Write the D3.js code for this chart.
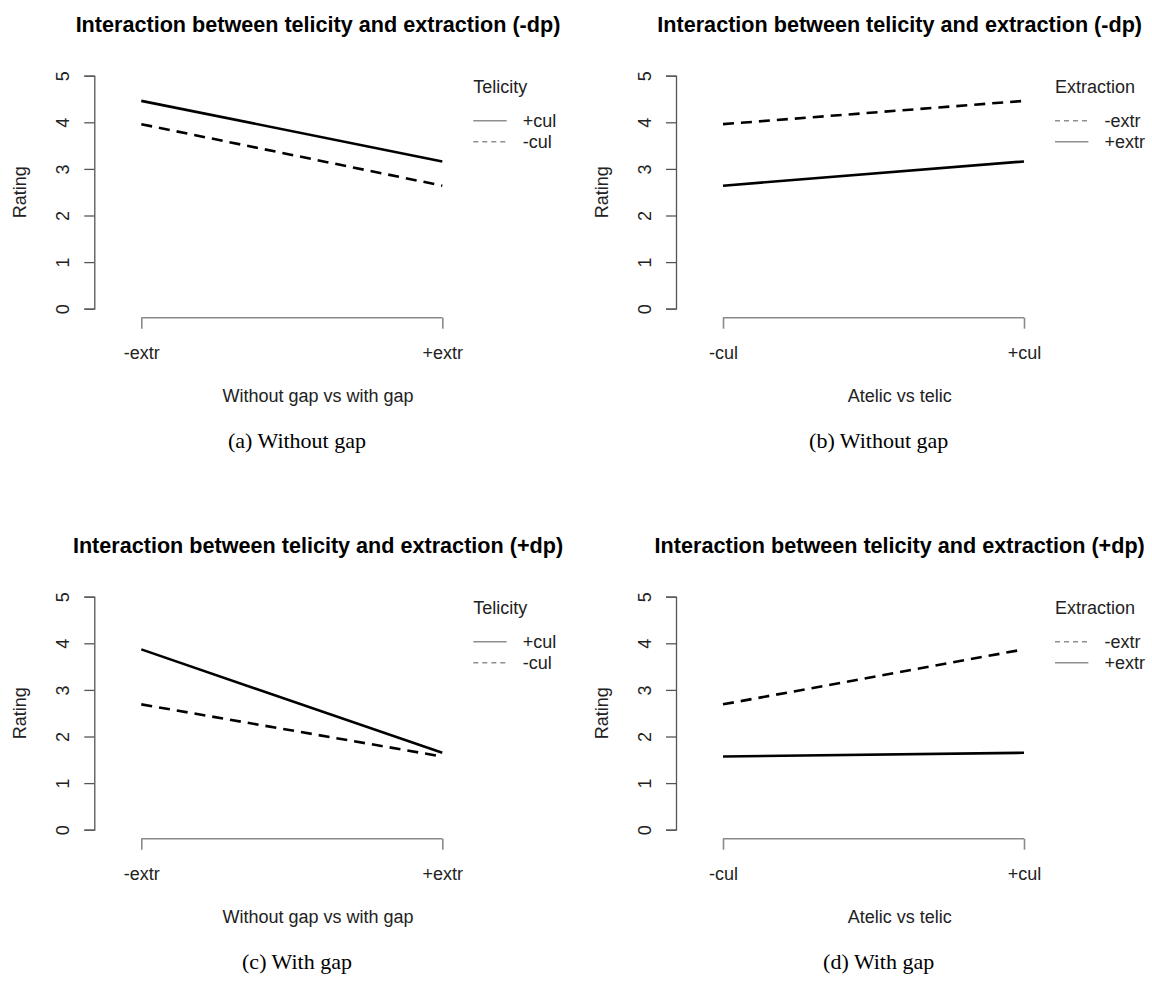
<!DOCTYPE html>
<html lang="en">
<head>
  <meta charset="UTF-8">
  <title>Interaction between telicity and extraction</title>
  <style>
    * { box-sizing: border-box; margin: 0; }
    body { background: #fff; width: 1152px; height: 992px; overflow: hidden; }
    svg { display: block; font-family: "Liberation Sans", Arial, sans-serif; }
    .title { font-weight: bold; font-size: 21.6px; fill: #000; }
    .axis-text { font-size: 18px; fill: #222; }
    .caption { font-family: "Liberation Serif", "Times New Roman", serif; font-size: 22px; fill: #000; }
  </style>
</head>
<body>
  <svg></svg>
  <script src="https://d3js.org/d3.v7.min.js"></script>
  <script>
    // categories
    const extraction = ['-extr', '+extr'];
    const telicity = ['-cul', '+cul'];
    const yTicks = [0, 1, 2, 3, 4, 5];

    // mean ratings, indexed by extraction (-extr, +extr)
    const noGapPlusCul = [4.46, 3.16];
    const noGapMinusCul = [3.96, 2.64];
    const gapPlusCul = [3.87, 1.65];
    const gapMinusCul = [2.69, 1.57];

    const panels = [
      { col: 0, row: 0, title: 'Interaction between telicity and extraction (-dp)', xlab: 'Without gap vs with gap',
        caption: '(a) Without gap', cats: extraction, legendTitle: 'Telicity',
        series: [
          { name: '+cul', dashed: false, values: noGapPlusCul },
          { name: '-cul', dashed: true, values: noGapMinusCul }
        ] },
      { col: 1, row: 0, title: 'Interaction between telicity and extraction (-dp)', xlab: 'Atelic vs telic',
        caption: '(b) Without gap', cats: telicity, legendTitle: 'Extraction',
        series: [
          { name: '-extr', dashed: true, values: [noGapMinusCul[0], noGapPlusCul[0]] },
          { name: '+extr', dashed: false, values: [noGapMinusCul[1], noGapPlusCul[1]] }
        ] },
      { col: 0, row: 1, title: 'Interaction between telicity and extraction (+dp)', xlab: 'Without gap vs with gap',
        caption: '(c) With gap', cats: extraction, legendTitle: 'Telicity',
        series: [
          { name: '+cul', dashed: false, values: gapPlusCul },
          { name: '-cul', dashed: true, values: gapMinusCul }
        ] },
      { col: 1, row: 1, title: 'Interaction between telicity and extraction (+dp)', xlab: 'Atelic vs telic',
        caption: '(d) With gap', cats: telicity, legendTitle: 'Extraction',
        series: [
          { name: '-extr', dashed: true, values: [gapMinusCul[0], gapPlusCul[0]] },
          { name: '+extr', dashed: false, values: [gapMinusCul[1], gapPlusCul[1]] }
        ] }
    ];

    const width = 1152, height = 992;
    const svg = d3.select('svg').attr('width', width).attr('height', height);

    const colStep = 581.7, rowStep = 521;
    const axisX = 94.3;          // y axis position
    const plotCenter = 318;      // centre of the plot region
    const y = d3.scaleLinear().domain([0, 5]).range([308.7, 75.7]);

    panels.forEach(p => {
      const g = svg.append('g')
        .attr('transform', 'translate(' + (p.col * colStep) + ',' + (p.row * rowStep) + ')');

      const x = d3.scalePoint().domain(p.cats).range([141.3, 442.3]);

      // title
      g.append('text').attr('class', 'title')
        .attr('x', plotCenter).attr('y', 31.7)
        .attr('text-anchor', 'middle').text(p.title);

      // y axis
      const yAxis = g.append('g')
        .attr('transform', 'translate(' + axisX + ',0)')
        .call(d3.axisLeft(y).tickValues(yTicks).tickSize(10).tickPadding(0).tickFormat(d3.format('d')));
      yAxis.select('.domain').attr('stroke', '#555').attr('stroke-width', 1.3);
      yAxis.selectAll('.tick line').attr('stroke', '#555').attr('stroke-width', 1.3);
      yAxis.selectAll('.tick text')
        .attr('class', 'axis-text')
        .attr('x', 0).attr('dy', null)
        .attr('text-anchor', 'middle')
        .attr('transform', 'translate(' + (63.3 - axisX + 6) + ',0) rotate(-90)')
        .attr('font-family', null).attr('font-size', null);

      // x axis
      const xAxisY = 317.7;
      const xAxis = g.append('g')
        .attr('transform', 'translate(0,' + xAxisY + ')')
        .call(d3.axisBottom(x).tickSizeInner(11).tickSizeOuter(0).tickPadding(18));
      xAxis.select('.domain').attr('stroke', '#8a8a8a').attr('stroke-width', 1.6)
        .attr('d', 'M' + x(p.cats[0]) + ',0H' + x(p.cats[1]));
      xAxis.selectAll('.tick line').attr('stroke', '#8a8a8a').attr('stroke-width', 1.6);
      xAxis.selectAll('.tick text').attr('class', 'axis-text')
        .attr('font-family', null).attr('font-size', null);

      // axis labels
      g.append('text').attr('class', 'axis-text')
        .attr('transform', 'translate(19.5,' + ((y(0) + y(5)) / 2) + ') rotate(-90)')
        .attr('text-anchor', 'middle').attr('dy', '0.35em').text('Rating');
      g.append('text').attr('class', 'axis-text')
        .attr('x', plotCenter).attr('y', 401.7)
        .attr('text-anchor', 'middle').text(p.xlab);

      // data lines
      const line = d3.line().x((d, i) => x(p.cats[i])).y(d => y(d));
      g.selectAll('.series').data(p.series).enter().append('path')
        .attr('class', 'series')
        .attr('d', s => line(s.values))
        .attr('fill', 'none')
        .attr('stroke', '#000')
        .attr('stroke-width', 2.6)
        .attr('stroke-dasharray', s => s.dashed ? '11,7' : null);

      // legend
      const lx = 473.3;
      g.append('text').attr('class', 'axis-text')
        .attr('x', lx).attr('y', 86.7).attr('dy', '0.35em').text(p.legendTitle);
      const item = g.selectAll('.legend-item').data(p.series).enter().append('g')
        .attr('class', 'legend-item')
        .attr('transform', (s, i) => 'translate(' + lx + ',' + (120.7 + i * 21) + ')');
      item.append('line')
        .attr('x1', 0).attr('x2', 33.4).attr('y1', 0).attr('y2', 0)
        .attr('stroke', '#8f8f8f').attr('stroke-width', 1.6)
        .attr('stroke-dasharray', s => s.dashed ? '5,4' : null);
      item.append('text').attr('class', 'axis-text')
        .attr('x', 49.4).attr('dy', '0.35em').text(s => s.name);

      // caption
      g.append('text').attr('class', 'caption')
        .attr('x', plotCenter - 21).attr('y', 448)
        .attr('text-anchor', 'middle').text(p.caption);
    });
  </script>
</body>
</html>
